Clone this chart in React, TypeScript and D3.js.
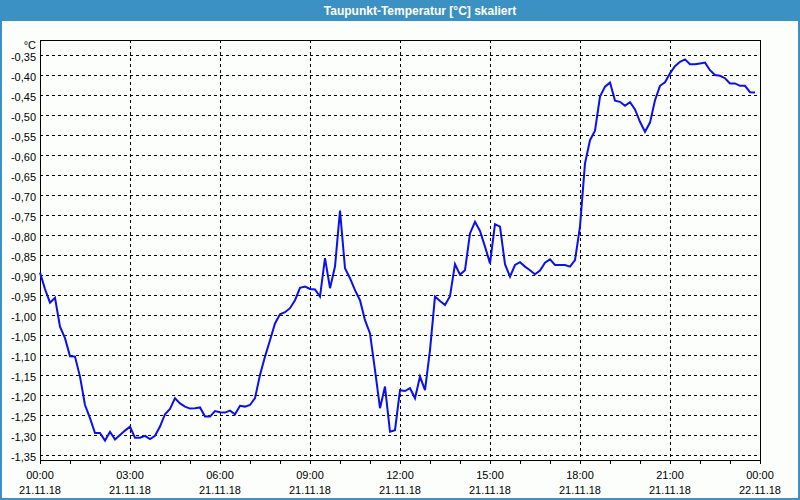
import React from "react";
import * as d3 from "d3";

const TITLE = "Taupunkt-Temperatur [°C] skaliert";
const UNIT = "°C";
const SAMPLE_MINUTES = 10;
const DEW_POINT: number[] = [
  -0.894, -0.935, -0.969, -0.957, -1.029, -1.058, -1.103, -1.104, -1.154, -1.225,
  -1.258, -1.295, -1.295, -1.314, -1.292, -1.311, -1.300, -1.289, -1.279, -1.307,
  -1.307, -1.302, -1.310, -1.302, -1.279, -1.248, -1.235, -1.208, -1.221, -1.229,
  -1.234, -1.233, -1.231, -1.254, -1.254, -1.240, -1.243, -1.244, -1.239, -1.248,
  -1.227, -1.229, -1.225, -1.208, -1.150, -1.104, -1.063, -1.021, -0.998, -0.993,
  -0.983, -0.963, -0.932, -0.929, -0.935, -0.936, -0.954, -0.858, -0.933, -0.879,
  -0.739, -0.883, -0.908, -0.938, -0.963, -1.013, -1.046, -1.138, -1.233, -1.179,
  -1.292, -1.288, -1.188, -1.190, -1.183, -1.208, -1.154, -1.188, -1.088, -0.954,
  -0.965, -0.975, -0.953, -0.873, -0.899, -0.888, -0.796, -0.767, -0.790, -0.829,
  -0.871, -0.773, -0.779, -0.873, -0.904, -0.875, -0.868, -0.879, -0.888, -0.898,
  -0.889, -0.869, -0.861, -0.875, -0.875, -0.875, -0.879, -0.863, -0.779, -0.621,
  -0.563, -0.539, -0.454, -0.429, -0.419, -0.464, -0.467, -0.477, -0.468, -0.486,
  -0.517, -0.542, -0.519, -0.463, -0.427, -0.418, -0.396, -0.378, -0.367, -0.361,
  -0.373, -0.373, -0.371, -0.369, -0.388, -0.400, -0.402, -0.408, -0.421, -0.421,
  -0.427, -0.427, -0.443, -0.444,
];
const Y_TICKS = [
  -0.35, -0.4, -0.45, -0.5, -0.55, -0.6, -0.65, -0.7, -0.75, -0.8, -0.85,
  -0.9, -0.95, -1.0, -1.05, -1.1, -1.15, -1.2, -1.25, -1.3, -1.35,
];
const X_TICK_MINUTES = [0, 180, 360, 540, 720, 900, 1080, 1260, 1440];
const TIME_LABELS = ["00:00", "03:00", "06:00", "09:00", "12:00", "15:00", "18:00", "21:00", "00:00"];
const DATE_LABELS = ["21.11.18", "21.11.18", "21.11.18", "21.11.18", "21.11.18", "21.11.18", "21.11.18", "21.11.18", "22.11.18"];

const W = 800;
const H = 500;
const PL = 40, PR = 760, PT = 40, PB = 460;

export default function App() {
  const x = d3.scaleLinear().domain([0, 1440]).range([PL, PR]);
  const y = d3.scaleLinear().domain([-0.35, -1.35]).range([55, 455]);
  const pts = DEW_POINT.map((v, i) => [i * SAMPLE_MINUTES, v] as [number, number]);
  const line = d3.line<[number, number]>().x((d) => x(d[0])).y((d) => y(d[1]));
  const hourTicks = d3.range(0, 1441, 60);
  const font = "'Liberation Sans', Arial, sans-serif";
  const fmt = (v: number) => v.toFixed(2).replace(".", ",");

  return (
    <svg width={W} height={H} style={{ position: "absolute", left: 0, top: 0, display: "block" }} fontFamily={font}>
      <rect x={0} y={0} width={W} height={H} fill="#fcfefc" />
      <rect x={0} y={0} width={W} height={21} fill="#3c91c4" />
      <rect x={0} y={0} width={2} height={H} fill="#3c91c4" />
      <rect x={W - 2} y={0} width={2} height={H} fill="#3c91c4" />
      <rect x={0} y={H - 2} width={W} height={2} fill="#3c91c4" />
      <text x={420} y={15} textAnchor="middle" fill="#ffffff" fontSize={12} fontWeight="bold">
        {TITLE}
      </text>

      {/* horizontal grid */}
      {Y_TICKS.map((t, i) => (
        <line key={"h" + i} x1={PL} x2={PR} y1={Math.round(y(t)) + 0.5} y2={Math.round(y(t)) + 0.5}
          stroke="#000" strokeWidth={1} strokeDasharray="3,3" shapeRendering="crispEdges" />
      ))}
      {/* vertical grid */}
      {X_TICK_MINUTES.slice(1, -1).map((m, i) => (
        <line key={"v" + i} x1={Math.round(x(m)) + 0.5} x2={Math.round(x(m)) + 0.5} y1={PT} y2={PB}
          stroke="#000" strokeWidth={1} strokeDasharray="3,3" shapeRendering="crispEdges" />
      ))}
      {/* hourly ticks */}
      {hourTicks.map((m, i) => (
        <line key={"t" + i} x1={Math.round(x(m)) + 0.5} x2={Math.round(x(m)) + 0.5} y1={PB} y2={PB + 4}
          stroke="#000" strokeWidth={1} shapeRendering="crispEdges" />
      ))}
      {/* frame */}
      <rect x={PL + 0.5} y={PT + 0.5} width={PR - PL} height={PB - PT} fill="none" stroke="#000"
        strokeWidth={1} shapeRendering="crispEdges" />

      {/* data line */}
      <path d={line(pts) || ""} fill="none" stroke="#0a10ee" strokeWidth={2} strokeLinejoin="miter" />

      {/* y labels */}
      <text x={36} y={49} textAnchor="end" fontSize={11} fill="#000">{UNIT}</text>
      {Y_TICKS.map((t, i) => (
        <text key={"yl" + i} x={36} y={y(t) + 5.5} textAnchor="end" fontSize={11} fill="#000">
          {fmt(t)}
        </text>
      ))}
      {/* x labels */}
      {X_TICK_MINUTES.map((m, i) => (
        <g key={"xl" + i}>
          <text x={x(m)} y={478.5} textAnchor="middle" fontSize={11} fill="#000">{TIME_LABELS[i]}</text>
          <text x={x(m)} y={494} textAnchor="middle" fontSize={11} fill="#000">{DATE_LABELS[i]}</text>
        </g>
      ))}
    </svg>
  );
}
